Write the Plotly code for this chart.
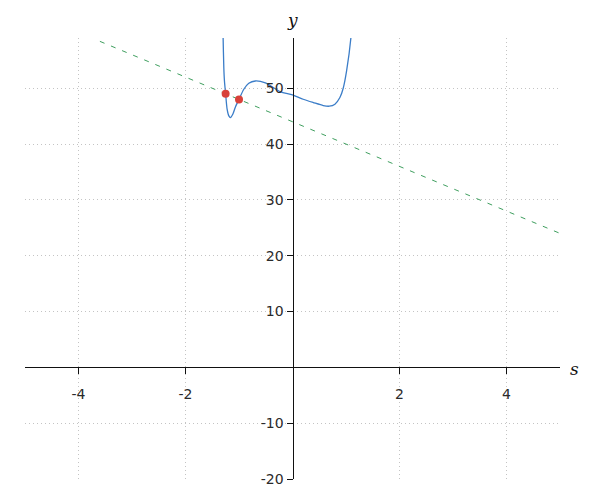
import plotly.graph_objects as go

# Curve samples (s, y)
curve_s = [-1.305, -1.297, -1.284, -1.272, -1.25, -1.222, -1.19, -1.16, -1.116, -1.067,
           -1.0, -0.91, -0.817, -0.694, -0.507, -0.233, 0.0, 0.20, 0.388, 0.575,
           0.687, 0.793, 0.886, 0.948, 1.011, 1.092, 1.11]
curve_y = [62.0, 59.1, 53.7, 51.3, 49.0, 46.24, 45.04, 44.75, 45.35, 46.65,
           48.0, 49.82, 50.9, 51.3, 50.95, 49.4, 48.8, 48.03, 47.44, 46.9,
           46.78, 47.14, 48.33, 50.0, 53.1, 59.08, 62.0]

# Secant line endpoints
line_s = [-3.6, 5.0]
line_y = [58.4, 24.0]

# Marked points
pt_s = [-1.25, -1.0]
pt_y = [49.0, 48.0]

x_ticks = [-4, -2, 2, 4]
y_ticks = [-20, -10, 10, 20, 30, 40, 50]
x_range = [-5, 5]
y_range = [-20, 59]

fig = go.Figure()
fig.add_trace(go.Scatter(x=line_s, y=line_y, mode="lines",
                         line=dict(color="#3f9f5f", width=1, dash="5px,7px"),
                         hoverinfo="skip", showlegend=False))
fig.add_trace(go.Scatter(x=curve_s, y=curve_y, mode="lines",
                         line=dict(color="#3b7dc8", width=1.3, shape="spline", smoothing=0.8),
                         showlegend=False))
fig.add_trace(go.Scatter(x=pt_s, y=pt_y, mode="markers",
                         marker=dict(color="#d8413a", size=8),
                         showlegend=False))

xpos = (0 - y_range[0]) / (y_range[1] - y_range[0])
ypos = (0 - x_range[0]) / (x_range[1] - x_range[0])

tickfont = dict(family="DejaVu Sans", size=14, color="#2a2a2a")
common = dict(showline=True, linecolor="#111", linewidth=1,
              ticks="outside", ticklen=6, tickcolor="#111", tickfont=tickfont,
              showgrid=True, gridcolor="#c4c4c4", griddash="1px,3px", gridwidth=1,
              zeroline=False, automargin=False, anchor="free")
fig.update_xaxes(range=x_range, tickvals=x_ticks, ticktext=[str(v) for v in x_ticks],
                 position=xpos, ticklabelstandoff=8, **common)
fig.update_yaxes(range=y_range, tickvals=y_ticks, ticktext=[str(v) for v in y_ticks],
                 position=ypos, **common)

fig.add_annotation(text="s", xref="paper", yref="paper", x=1, y=xpos, xanchor="left",
                   yanchor="middle", xshift=8, yshift=-2, showarrow=False,
                   font=dict(family="DejaVu Serif", size=17, color="#111", style="italic"))
fig.add_annotation(text="y", xref="paper", yref="paper", x=ypos, y=1, xanchor="center",
                   yanchor="bottom", yshift=6, showarrow=False,
                   font=dict(family="DejaVu Serif", size=17, color="#111", style="italic"))

# page body has an 8px margin, so shift the plot area up/left by 8px
fig.update_layout(width=600, height=500, margin=dict(l=17, r=48, t=30, b=29, autoexpand=False),
                  plot_bgcolor="white", paper_bgcolor="white", showlegend=False)

fig.write_html("out.html")
